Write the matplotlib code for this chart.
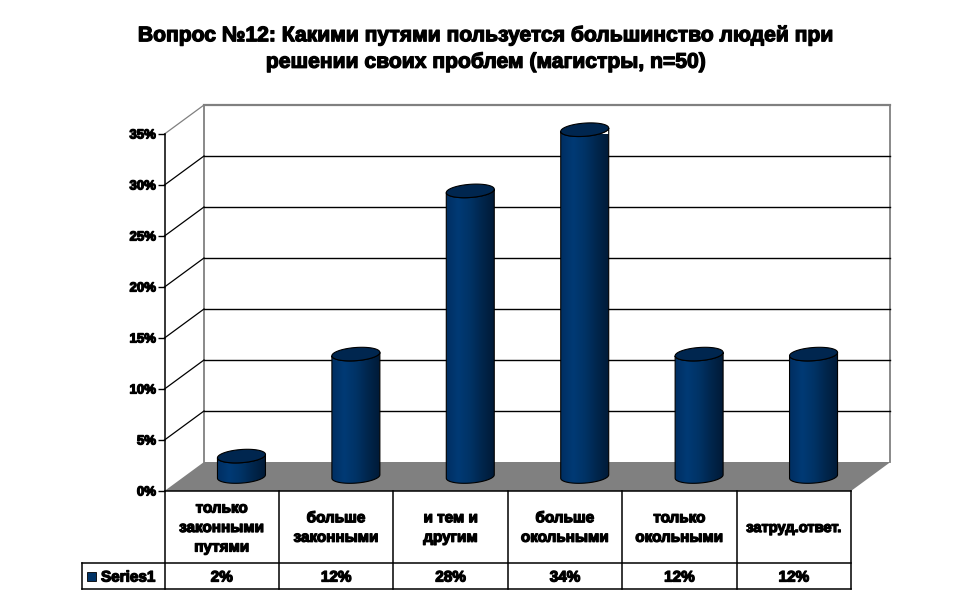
import numpy as np
import matplotlib
matplotlib.use("Agg")
import matplotlib.pyplot as plt
import matplotlib.patheffects as pe
from matplotlib.patches import Polygon, PathPatch, Rectangle
from matplotlib.path import Path
from matplotlib.colors import LinearSegmentedColormap

plt.rcParams['font.family'] = ['Liberation Sans', 'DejaVu Sans']

title = "Вопрос №12: Какими путями пользуется большинство людей при\nрешении своих проблем (магистры, n=50)"
categories = ["только\nзаконными\nпутями", "больше\nзаконными", "и тем и\nдругим",
              "больше\nокольными", "только\nокольными", "затруд.ответ."]
values = [2, 12, 28, 34, 12, 12]
value_labels = ["2%", "12%", "28%", "34%", "12%", "12%"]
yticks = [0, 5, 10, 15, 20, 25, 30, 35]
series_name = "Series1"

W, H = 970, 604
fig = plt.figure(figsize=(W / 100, H / 100), dpi=100, facecolor="white")
# front plane of the 3d box: 164.5..851 px wide, 0%=491 px, 35%=134 px
ax = fig.add_axes([164.5 / W, 1 - 491 / H, (851 - 164.5) / W, (491 - 134) / H])
ax.set_xlim(0, 6)
ax.set_ylim(0, 35)
ax.patch.set_visible(False)
for s in ["top", "right", "bottom"]:
    ax.spines[s].set_visible(False)
ax.spines["left"].set_linewidth(1.1)

px_x = 6 / (851 - 164.5)
px_y = 35 / (491 - 134)
dx = 39.5 * px_x   # depth of the box
dy = 29 * px_y

heavy = [pe.withStroke(linewidth=0.9, foreground="black")]

# walls
ax.plot([dx, dx], [dy, 35 + dy], color="#808080", lw=1.3, clip_on=False, zorder=1)
ax.plot([6 + dx, 6 + dx], [dy, 35 + dy], color="#808080", lw=1.3, clip_on=False, zorder=1)
ax.plot([dx, 6 + dx], [35 + dy, 35 + dy], color="#808080", lw=1.6, clip_on=False, zorder=1)
for t in yticks[1:]:
    ax.plot([0, dx], [t, t + dy], color="black" if t < 35 else "#808080", lw=0.9, clip_on=False, zorder=1)
    if t < 35:
        ax.plot([dx, 6 + dx], [t + dy, t + dy], color="black", lw=1.0, clip_on=False, zorder=1)

# floor
ax.add_patch(Polygon([(0, 0), (dx, dy), (6 + dx, dy), (6, 0)], closed=True,
                     facecolor="#808080", edgecolor="none", clip_on=False, zorder=2))

# cylinders, the ellipses lean up to the right like in the old excel 3d view
cmap = LinearSegmentedColormap.from_list("cyl", ["#002f62", "#003a75", "#003366", "#00264d", "#001a38"])
grad = np.linspace(0, 1, 64).reshape(1, -1)
rx = 24 * px_x
ry = 6.6 * px_y
tilt = 1.7 * px_y
theta = np.linspace(0, np.pi, 40)
full = np.linspace(0, 2 * np.pi, 80)
for i, v in enumerate(values):
    cx = i + 0.5 + dx / 2
    base = dy / 2
    top = base + v
    lower = np.column_stack([cx - rx * np.cos(theta), base - tilt * np.cos(theta) - ry * np.sin(theta)])
    upper = np.column_stack([cx + rx * np.cos(theta), top + tilt * np.cos(theta) - ry * np.sin(theta)])
    body = np.vstack([lower, upper, lower[:1]])
    patch = PathPatch(Path(body, closed=True), facecolor="none", edgecolor="black",
                      lw=0.8, clip_on=False, zorder=4)
    im = ax.imshow(grad, cmap=cmap, aspect="auto", zorder=3,
                   extent=[cx - rx, cx + rx, base - 2 * ry, top + 2 * ry], interpolation="bilinear")
    ax.add_patch(patch)
    im.set_clip_path(patch)
    cap = np.column_stack([cx + rx * np.cos(full), top + tilt * np.cos(full) + ry * np.sin(full)])
    ax.add_patch(Polygon(cap, closed=True, facecolor="#00264f", edgecolor="black",
                         lw=0.8, clip_on=False, zorder=5))
ax.set_xlim(0, 6)
ax.set_ylim(0, 35)

# axis
ax.set_xticks([])
ax.set_yticks(yticks)
ax.set_yticklabels([f"{t}%" for t in yticks], fontsize=9.5, fontweight="bold", path_effects=heavy)
ax.tick_params(axis="y", length=5, width=1.0, pad=1)

# data table under the plot
row1 = -(563 - 491) * px_y
row2 = -(589 - 491) * px_y
left = -(164.5 - 82) * px_x
line = dict(color="black", lw=1.1, clip_on=False, zorder=6)
ax.plot([0, 6], [0, 0], **line)
ax.plot([left, 6], [row1, row1], **line)
ax.plot([left, 6], [row2, row2], **line)
ax.plot([left, left], [row1, row2], **line)
for i in range(7):
    ax.plot([i, i], [0, row2], **line)
for i, (c, lab) in enumerate(zip(categories, value_labels)):
    ax.text(i + 0.5, row1 / 2 - 0.1, c, ha="center", va="center", fontsize=11 if i < 5 else 10.6,
            fontweight="bold", linespacing=1.5, path_effects=heavy, clip_on=False)
    ax.text(i + 0.5, (row1 + row2) / 2 - 0.15, lab, ha="center", va="center", fontsize=11,
            fontweight="bold", path_effects=heavy, clip_on=False)
ax.add_patch(Rectangle((left + 5 * px_x, (row1 + row2) / 2 - 4.5 * px_y), 9 * px_x, 9 * px_y,
                       facecolor="#003366", edgecolor="black", lw=0.6, clip_on=False, zorder=6))
ax.text(left + 19 * px_x, (row1 + row2) / 2 - 0.15, series_name, ha="left", va="center", fontsize=11,
        fontweight="bold", path_effects=heavy, clip_on=False)

fig.text(486.5 / W, 1 - 49 / H, title, ha="center", va="center", fontsize=15.2, fontweight="bold",
         linespacing=1.5, path_effects=heavy)

fig.savefig("out.png", dpi=100)
